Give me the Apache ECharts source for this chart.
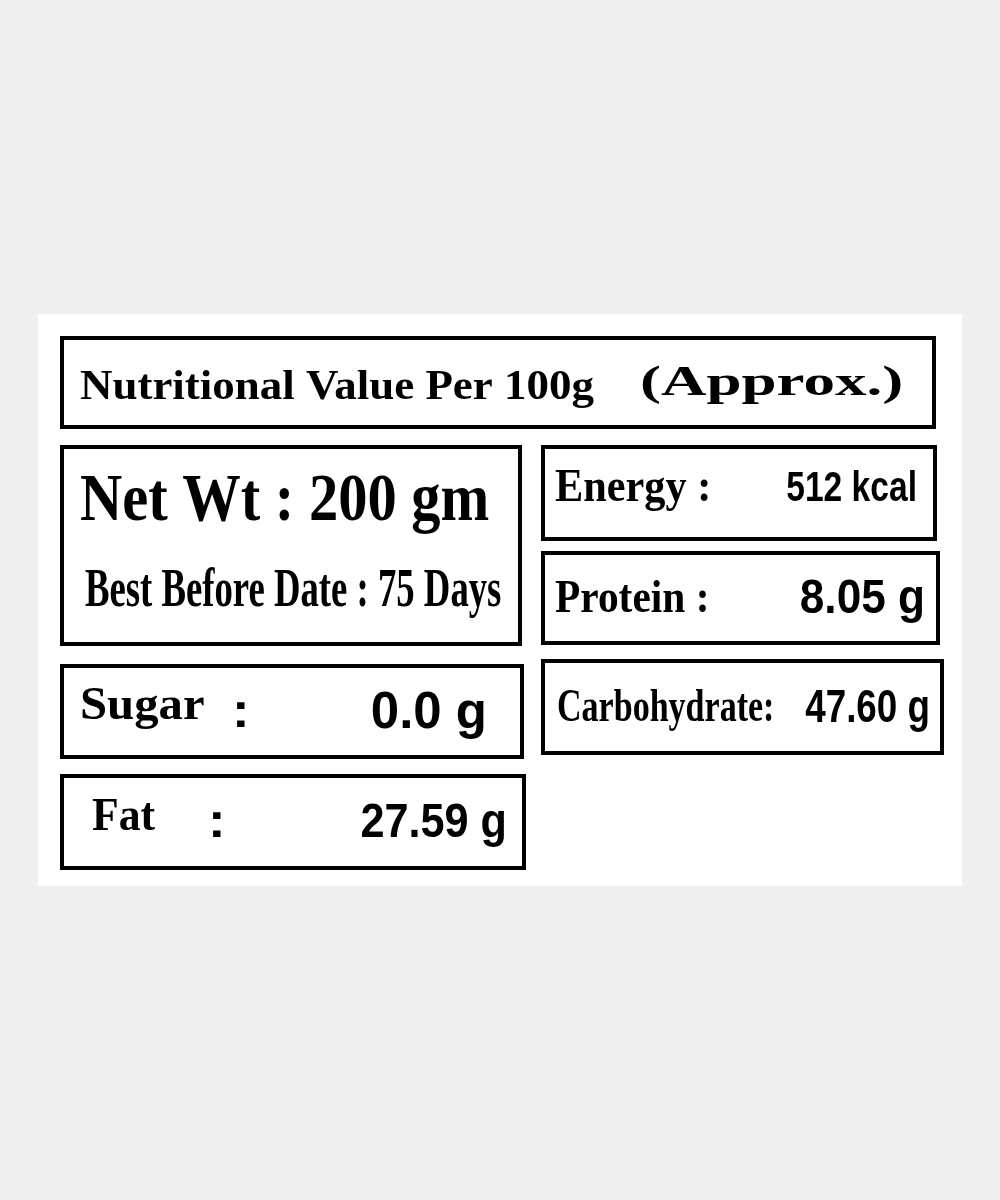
<!DOCTYPE html>
<html><head><meta charset="utf-8">
<script src="https://cdn.jsdelivr.net/npm/echarts@6/dist/echarts.min.js"></script>
<style>html,body{margin:0;padding:0;background:#efefef}#c{width:1000px;height:1200px}</style>
</head><body><div id="c"></div>
<script>
const titleText = ["Nutritional Value Per 100g", "(Approx.)"];
const netWeight = ["Net Wt : 200 gm", "Best Before Date : 75 Days"];
const nutrientLabels = ["Energy :", "Protein :", "Sugar :", "Carbohydrate:", "Fat :"];
const nutrientValues = ["512 kcal", "8.05 g", "0.0 g", "47.60 g", "27.59 g"];

const chart = echarts.init(document.getElementById('c'));
const g = [];
g.push({type:'rect', shape:{x:38,y:314,width:924,height:572}, style:{fill:'#fff'}});
function box(x,y,w,h){ g.push({type:'rect', shape:{x:x,y:y,width:w,height:h}, style:{fill:'none',stroke:'#000',lineWidth:4}}); }
function txt(x,y,s,family,size,sx,align){
  g.push({type:'text', x:x, y:y, scaleX:sx, style:{text:s, font:'bold '+size+'px '+family, fill:'#000', textAlign:align||'left', textVerticalAlign:'middle'}});
}
const serif='"Liberation Serif"', sans='"Liberation Sans"';
box(62,338,872,89);
txt(80,388,titleText[0],serif,42,1.07);
txt(640,384,titleText[1],serif,42,1.5);
box(62,447,458,197);
txt(80,502,netWeight[0],serif,68,0.86);
txt(85,592,netWeight[1],serif,54,0.68);
const boxes = [[543,447,392,92],[543,553,395,90],[62,666,460,91],[543,661,399,92],[62,776,462,92]];
const labelX = [555,555,80,557,92];
const colonSplit = [null,null,[232],null,[208]];
const valX = [917,925,487,930,507];
const valSize=[42,48,52,46,48], valSx=[0.8,0.92,0.98,0.8,0.9];
const lblSx=[0.92,0.9,1.06,0.74,0.95];
for(let i=0;i<boxes.length;i++){
  const b=boxes[i]; box(b[0],b[1],b[2],b[3]);
  const cy=b[1]+b[3]/2+(i===0?-4:2);
  let lbl=nutrientLabels[i];
  if(colonSplit[i]){ const name=lbl.replace(' :',''); txt(labelX[i],cy-6,name,serif,46,lblSx[i]); txt(colonSplit[i][0],cy,':',sans,48,1.1); }
  else txt(labelX[i],cy,lbl,serif,46,lblSx[i]);
  txt(valX[i],cy,nutrientValues[i],sans,valSize[i],valSx[i],'right');
}
chart.setOption({backgroundColor:'#efefef', graphic:{elements:g}});
</script></body></html>
